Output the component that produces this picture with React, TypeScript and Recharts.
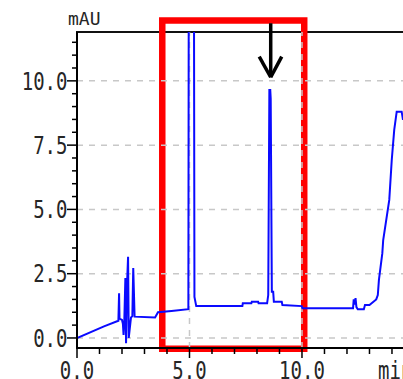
import React from 'react';
import { LineChart, Line, XAxis, YAxis, ReferenceLine, ReferenceArea } from 'recharts';

// retention time (min)
const times = [
  0, 1.2, 1.84, 1.87, 1.89, 2.0, 2.04, 2.07, 2.1, 2.15, 2.18, 2.22, 2.27, 2.3, 2.35, 2.4, 2.46, 2.5, 2.56,
  3.47, 3.6, 4.2, 4.95, 4.99, 5.17, 5.22, 5.3, 7.35, 7.37, 7.75, 7.77, 8.05, 8.07, 8.45, 8.5, 8.55, 8.59,
  8.61, 8.66, 8.72, 8.75, 9.1, 9.13, 9.99, 10.02, 12.27, 12.3, 12.34, 12.38, 12.42, 12.48, 12.75, 12.8,
  13.0, 13.3, 13.37, 13.42, 13.57, 13.61, 13.88, 13.99, 14.1, 14.21, 14.43, 14.49,
];
// absorbance (mAU)
const absorbance = [
  0, 0.45, 0.67, 1.74, 0.75, 0.7, 0.55, 0.12, 0.6, 2.33, -0.2, 2.0, 3.16, 0.0, 0.4, 0.8, 0.85, 2.72, 0.83,
  0.8, 1.0, 1.05, 1.12, 30, 30, 1.6, 1.24, 1.24, 1.35, 1.35, 1.41, 1.41, 1.35, 1.35, 1.67, 9.64, 9.64,
  9.3, 1.8, 1.8, 1.41, 1.41, 1.28, 1.24, 1.16, 1.16, 1.5, 1.3, 1.55, 1.2, 1.12, 1.12, 1.28,
  1.28, 1.5, 1.67, 2.26, 3.29, 3.81, 5.37, 6.92, 8.09, 8.8, 8.8, 8.48,
];

const xTicks = [0, 1, 2, 3, 4, 5, 6, 7, 8, 9, 10, 11, 12, 13, 14];
const xLabelTicks = [0, 5, 10];
const yTicks = [0, 0.5, 1, 1.5, 2, 2.5, 3, 3.5, 4, 4.5, 5, 5.5, 6, 6.5, 7, 7.5, 8, 8.5, 9, 9.5, 10, 10.5, 11, 11.5];
const yLabelTicks = [0, 2.5, 5, 7.5, 10];
const gridX = [5, 10];
const gridY = [0, 2.5, 5, 7.5, 10];

const xDomain = [0, 14.49];
const yDomain = [-0.39, 11.9];

// highlighted region (min / mAU)
const boxTime = [3.79, 10.1];
const boxAbs = [-0.42, 12.35];
// arrow pointing at peak
const arrowTime = [8.1, 8.61, 9.1];
const arrowAbs = [12.24, 10.14, 10.94];

const data = times.map((t, i) => ({ t, v: absorbance[i] }));

const TEXT = '#262626';
const FONT = 'DejaVu Sans Mono';

const YTick = (props: any) => {
  const { x, y, payload } = props;
  const v = payload.value;
  const major = yLabelTicks.includes(v);
  const len = major ? 10 : 5;
  return (
    <g>
      <line x1={x - len} x2={x} y1={y} y2={y} stroke="#000" strokeWidth={1.5} />
      {major && (
        <g transform={`translate(${x - 9.5},${y + 8.7}) scale(1,1.26)`}>
          <text x={0} y={0} textAnchor="end" fontFamily={FONT} fontSize={19} fill={TEXT}>
            {v.toFixed(1)}
          </text>
        </g>
      )}
    </g>
  );
};

const XTick = (props: any) => {
  const { x, y, payload } = props;
  const v = payload.value;
  const major = xLabelTicks.includes(v);
  const len = major ? 10 : 6;
  return (
    <g>
      <line x1={x} x2={x} y1={y} y2={y + len} stroke="#000" strokeWidth={1.5} />
      {major && (
        <g transform={`translate(${x},${y + 30.5}) scale(1,1.26)`}>
          <text x={0} y={0} textAnchor="middle" fontFamily={FONT} fontSize={19} fill={TEXT}>
            {v.toFixed(1)}
          </text>
        </g>
      )}
    </g>
  );
};

export default function App() {
  return (
    <div style={{ position: 'absolute', left: 0, top: 0, width: 403, height: 379, overflow: 'hidden', background: '#fff' }}>
      <LineChart width={403} height={379} data={data} margin={{ top: 32, right: 0, bottom: 0, left: 0 }}>
        <XAxis
          dataKey="t"
          type="number"
          domain={xDomain}
          allowDataOverflow
          ticks={xTicks}
          interval={0}
          tickSize={0}
          tickMargin={0}
          tickLine={false}
          tick={<XTick />}
          height={31}
          axisLine={{ stroke: '#000', strokeWidth: 2 }}
        />
        <YAxis
          type="number"
          domain={yDomain}
          allowDataOverflow
          ticks={yTicks}
          interval={0}
          tickSize={0}
          tickMargin={0}
          tickLine={false}
          tick={<YTick />}
          width={77}
          axisLine={{ stroke: '#000', strokeWidth: 2 }}
        />
        {gridY.map((g) => (
          <ReferenceLine key={'gy' + g} y={g} stroke="#c8c8c8" strokeWidth={1.5} strokeDasharray="6 6" />
        ))}
        {gridX.map((g) => (
          <ReferenceLine key={'gx' + g} x={g} stroke="#c8c8c8" strokeWidth={1.5} strokeDasharray="6 6" />
        ))}
        <ReferenceArea
          x1={xDomain[0]}
          x2={xDomain[1] + 0.2}
          y1={yDomain[0]}
          y2={yDomain[1]}
          fill="none"
          fillOpacity={0}
          stroke="#111"
          strokeWidth={2}
          ifOverflow="visible"
        />
        <Line
          type="linear"
          dataKey="v"
          stroke="#0a0aff"
          strokeWidth={2}
          dot={false}
          isAnimationActive={false}
        />
        <ReferenceArea
          x1={boxTime[0]}
          x2={boxTime[1]}
          y1={boxAbs[0]}
          y2={boxAbs[1]}
          fill="none"
          fillOpacity={0}
          stroke="#ff0000"
          strokeWidth={6.5}
          ifOverflow="visible"
        />
        <ReferenceLine
          segment={[{ x: arrowTime[1], y: arrowAbs[0] }, { x: arrowTime[1], y: arrowAbs[1] }]}
          stroke="#000"
          strokeWidth={3.5}
          ifOverflow="visible"
        />
        <ReferenceLine
          segment={[{ x: arrowTime[0], y: arrowAbs[2] }, { x: arrowTime[1], y: arrowAbs[1] }]}
          stroke="#000"
          strokeWidth={3.5}
          ifOverflow="visible"
        />
        <ReferenceLine
          segment={[{ x: arrowTime[2], y: arrowAbs[2] }, { x: arrowTime[1], y: arrowAbs[1] }]}
          stroke="#000"
          strokeWidth={3.5}
          ifOverflow="visible"
        />
        <text x={68} y={25} fontFamily={FONT} fontSize={18} fill={TEXT}>mAU</text>
        <g transform="translate(378,378.5) scale(1,1.26)">
          <text x={0} y={0} fontFamily={FONT} fontSize={19} fill={TEXT}>min</text>
        </g>
      </LineChart>
    </div>
  );
}
